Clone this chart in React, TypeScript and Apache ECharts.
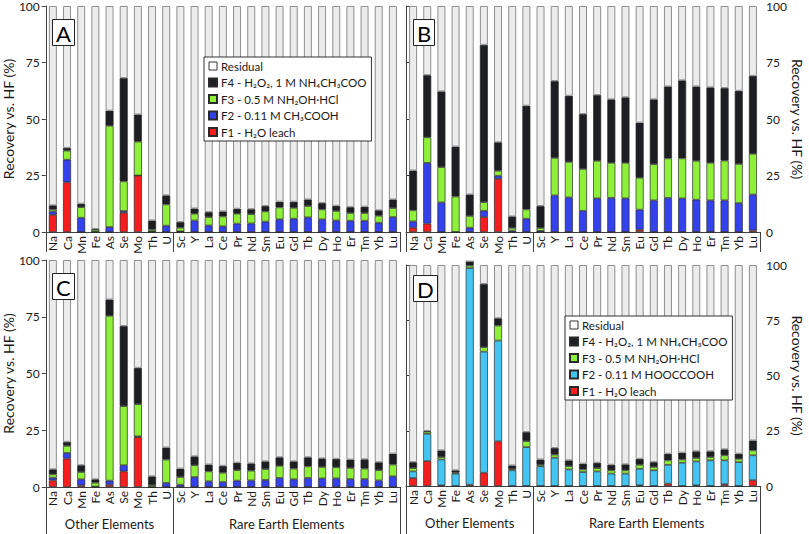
import React, { useEffect, useRef } from "react";
import * as echarts from "echarts";

const elements = ["Na", "Ca", "Mn", "Fe", "As", "Se", "Mo", "Th", "U", "Sc", "Y", "La", "Ce", "Pr", "Nd", "Sm", "Eu", "Gd", "Tb", "Dy", "Ho", "Er", "Tm", "Yb", "Lu"];
const groupLabels = ["Other Elements", "Rare Earth Elements"];
const groupBounds = [0, 9, 25];
const groupCenters = [4.5, 17];
const yTicks = [0, 25, 50, 75, 100];
const panelLetters = ["A", "B", "C", "D"];
const yAxisName = "Recovery vs. HF (%)";

const nameResidual = "Residual";
const nameF4 = "F4 - H₂O₂, 1 M NH₄CH₃COO";
const nameF3 = "F3 - 0.5 M NH₂OH·HCl";
const nameF2acetic = "F2 - 0.11 M CH₃COOH";
const nameF2oxalic = "F2 - 0.11 M HOOCCOOH";
const nameF1 = "F1 - H₂O leach";

// Panel A
const aF1 = [7.6, 22, 0, 0, 0, 8.5, 25, 0, 0, 0, 0, 0, 0, 0, 0, 0, 0, 0, 0, 0, 0, 0, 0, 0, 0];
const aF2 = [1.5, 10, 6.3, 0.2, 2.2, 0.8, 0, 0.3, 2.8, 0.3, 5.1, 2.9, 2.5, 3.7, 3.8, 4.6, 5.6, 5.9, 6.5, 5.6, 5.1, 5.0, 5.0, 4.1, 6.6];
const aF3 = [0.9, 4, 4.7, 0.9, 44.8, 13.1, 15, 0.8, 9.4, 1.6, 3.0, 3.7, 4.4, 4.4, 4.1, 4.5, 5.3, 4.8, 5.0, 4.4, 4.2, 3.4, 3.4, 3.1, 4.0];
const aF4 = [1.8, 1.2, 1.5, 0.2, 6.7, 45.7, 12, 4, 4, 2.5, 2.3, 2.2, 2.2, 2.2, 2.2, 2.4, 2.5, 2.7, 2.9, 2.8, 2.3, 2.6, 2.8, 2.4, 3.8];

// Panel B
const bF1 = [1.9, 3.7, 0, 0, 0, 6.6, 23.5, 0, 0, 0, 0, 0, 0, 0, 0, 0, 1.0, 0, 0, 0, 0, 0, 0, 0, 0.7];
const bF2 = [2.8, 26.9, 13.1, 0, 1.9, 2.8, 1.4, 0.6, 5.9, 0.5, 16.2, 15.3, 9.4, 14.9, 15.1, 14.9, 8.9, 14.0, 15.1, 14.9, 14.3, 14.0, 14.0, 12.8, 15.9];
const bF3 = [4.9, 11.3, 15.6, 15.7, 5.2, 3.8, 2.2, 1.2, 4.1, 1.3, 16.6, 15.7, 18.5, 16.6, 15.5, 15.7, 14.1, 16.0, 17.5, 17.7, 17.2, 16.6, 17.6, 17.3, 18.0];
const bF4 = [17.6, 27.5, 33.5, 22.1, 9.5, 69.6, 12.6, 5.1, 45.9, 9.7, 34.0, 29.3, 24.3, 29.1, 28.1, 29.0, 24.4, 28.7, 31.8, 34.5, 32.9, 33.4, 32.1, 32.4, 34.5];

// Panel C
const cF1 = [2.9, 12.5, 0.7, 0, 1.0, 6.9, 22, 0, 0, 0, 0, 0, 0, 0, 0, 0, 0, 0, 0, 0, 0, 0, 0, 0, 0];
const cF2 = [1.2, 2.5, 2.7, 0.2, 1.8, 2.7, 0.3, 0, 1.8, 1.0, 4.4, 2.5, 2.2, 2.8, 2.9, 3.1, 4.0, 3.4, 4.0, 3.8, 3.8, 3.5, 3.5, 2.9, 4.7];
const cF3 = [1.5, 3.1, 3.2, 1.7, 72.6, 26, 14.2, 0.8, 10.3, 3.4, 5.2, 4.4, 4.1, 4.6, 4.3, 4.8, 5.3, 4.7, 5.1, 5.0, 4.9, 4.9, 4.6, 4.5, 5.2];
const cF4 = [2.2, 1.8, 3.0, 1.5, 7.2, 35.3, 16, 3.9, 5.3, 3.7, 3.9, 3.0, 3.0, 3.3, 3.2, 3.4, 3.8, 3.2, 4.0, 3.8, 3.7, 3.7, 4.1, 3.5, 4.8];

// Panel D
const dF1 = [3.6, 11.3, 0.3, 0, 0.6, 6.0, 20.2, 0, 0, 0, 0, 0, 0, 0, 0, 0, 0.3, 0, 1.1, 0, 0.3, 0, 0.8, 0, 2.6];
const dF2 = [3.0, 12.3, 11.7, 5.6, 98.0, 54.8, 45.6, 7.1, 17.6, 8.9, 12.8, 7.5, 6.3, 6.6, 5.6, 5.6, 7.5, 7.1, 8.5, 10.5, 10.8, 11.6, 10.8, 10.8, 11.3];
const dF3 = [1.5, 1.0, 1.1, 0.5, 1.1, 2.0, 6.8, 0.6, 2.7, 0.7, 1.4, 1.5, 1.2, 1.5, 1.5, 1.5, 1.8, 1.5, 2.0, 1.5, 1.6, 1.5, 2.3, 1.5, 2.2];
const dF4 = [2.7, 0.3, 3.0, 1.0, 2.0, 28.6, 3.3, 1.6, 4.1, 2.4, 3.0, 2.6, 2.6, 2.4, 2.5, 2.7, 2.7, 2.2, 3.0, 3.1, 3.0, 2.6, 2.7, 2.3, 4.5];

const FONT = "Lato";
const COL = {
  red: "#f51d1d",
  blue: "#3442ee",
  cyan: "#45c6f2",
  green: "#8ff03a",
  black: "#1c1e22",
  residual: "#ececec",
  residualBorder: "#8f8f8f",
  segBorder: "#2a2a2a",
  axis: "#404040",
  text: "#1a1a1a",
};

type Panel = {
  data: number[][];
  f2Name: string;
  f2Color: string;
  grid: { left: number; top: number; width: number; height: number };
  side: "left" | "right";
  bottomLabels: boolean;
  title: { left: number; top: number };
};

const panels: Panel[] = [
  { data: [aF1, aF2, aF3, aF4], f2Name: nameF2acetic, f2Color: COL.blue, grid: { left: 45, top: 6, width: 355, height: 226 }, side: "left", bottomLabels: false, title: { left: 52, top: 19 } },
  { data: [bF1, bF2, bF3, bF4], f2Name: nameF2acetic, f2Color: COL.blue, grid: { left: 406, top: 6, width: 354, height: 226 }, side: "right", bottomLabels: false, title: { left: 413, top: 19 } },
  { data: [cF1, cF2, cF3, cF4], f2Name: nameF2acetic, f2Color: COL.blue, grid: { left: 45, top: 260, width: 355, height: 227 }, side: "left", bottomLabels: true, title: { left: 52, top: 273 } },
  { data: [dF1, dF2, dF3, dF4], f2Name: nameF2oxalic, f2Color: COL.cyan, grid: { left: 406, top: 265, width: 354, height: 221 }, side: "right", bottomLabels: true, title: { left: 413, top: 275 } },
];

function buildOption() {
  const grids: any[] = [];
  const xAxes: any[] = [];
  const yAxes: any[] = [];
  const series: any[] = [];
  const titles: any[] = [];

  panels.forEach((p, k) => {
    grids.push({ ...p.grid, containLabel: false });
    xAxes.push({
      type: "category",
      gridIndex: k,
      data: elements,
      boundaryGap: true,
      axisLine: { show: true, lineStyle: { color: COL.axis, width: 1 } },
      axisTick: { show: false },
      axisLabel: { rotate: 90, fontSize: 12, fontFamily: FONT, color: COL.text, margin: 4, interval: 0 },
      splitLine: { show: false },
    });
    xAxes.push({
      type: "value",
      gridIndex: k,
      min: 0,
      max: 25,
      position: "bottom",
      axisLine: { show: false },
      splitLine: { show: false },
      axisTick: {
        show: true,
        customValues: groupBounds,
        length: p.bottomLabels ? 48 : 20,
        lineStyle: { color: COL.axis, width: 1 },
      },
      axisLabel: p.bottomLabels
        ? {
            show: true,
            customValues: groupCenters,
            formatter: (v: number) => (v < groupBounds[1] ? groupLabels[0] : groupLabels[1]),
            fontSize: 13,
            fontFamily: FONT,
            color: COL.text,
            margin: 30,
          }
        : { show: false },
    });
    yAxes.push({
      type: "value",
      gridIndex: k,
      min: yTicks[0],
      max: yTicks[yTicks.length - 1],
      interval: 25,
      position: p.side,
      name: yAxisName,
      nameLocation: "middle",
      nameRotate: p.side === "left" ? 90 : -90,
      nameGap: p.side === "left" ? 27 : 30,
      nameTextStyle: { fontSize: 14, fontFamily: FONT, color: COL.text },
      axisLine: { show: true, lineStyle: { color: COL.axis, width: 1 } },
      axisTick: { show: true, length: 4, lineStyle: { color: COL.axis } },
      axisLabel: { fontSize: 12, fontFamily: FONT, color: COL.text, margin: 6 },
      splitLine: { show: false },
    });

    const [f1, f2, f3, f4] = p.data;
    const residual = elements.map((_, i) => Math.max(0, 100 - (f1[i] + f2[i] + f3[i] + f4[i])));
    const segs = [
      { name: nameF1, data: f1, color: COL.red, border: COL.segBorder, bw: 0.7 },
      { name: p.f2Name, data: f2, color: p.f2Color, border: COL.segBorder, bw: 0.7 },
      { name: nameF3, data: f3, color: COL.green, border: COL.segBorder, bw: 0.7 },
      { name: nameF4, data: f4, color: COL.black, border: COL.segBorder, bw: 0.7 },
      { name: nameResidual, data: residual, color: COL.residual, border: COL.residualBorder, bw: 1 },
    ];
    segs.forEach((s) => {
      series.push({
        type: "bar",
        name: s.name,
        xAxisIndex: 2 * k,
        yAxisIndex: k,
        stack: "panel" + k,
        data: s.data,
        barWidth: 8,
        clip: false,
        itemStyle: { color: s.color, borderColor: s.border, borderWidth: s.bw },
        emphasis: { disabled: true },
      });
    });

    titles.push({
      text: panelLetters[k],
      left: p.title.left,
      top: p.title.top,
      padding: [3, 4, 2, 4],
      borderColor: "#222",
      borderWidth: 1,
      backgroundColor: "#ffffff",
      textStyle: { fontSize: 22, fontWeight: "normal", fontFamily: FONT, color: "#000" },
    });
  });

  const legendCommon = {
    orient: "vertical",
    itemWidth: 8,
    itemHeight: 8,
    itemGap: 4.5,
    backgroundColor: "#ffffff",
    borderColor: "#333",
    borderWidth: 1,
    padding: [3, 5, 3, 4],
    selectedMode: false,
    icon: "rect",
    textStyle: { fontSize: 11.5, fontFamily: FONT, color: COL.text, padding: [0, 0, 0, -1] },
  };
  const residualLegendItem = { name: nameResidual, itemStyle: { color: "#ffffff", borderColor: "#333", borderWidth: 1 } };

  return {
    animation: false,
    backgroundColor: "#ffffff",
    title: titles,
    grid: grids,
    xAxis: xAxes,
    yAxis: yAxes,
    legend: [
      { ...legendCommon, left: 204, top: 57, data: [residualLegendItem, nameF4, nameF3, nameF2acetic, nameF1] },
      { ...legendCommon, left: 565, top: 316, data: [residualLegendItem, nameF4, nameF3, nameF2oxalic, nameF1] },
    ],
    series,
  };
}

export default function App() {
  const ref = useRef<HTMLDivElement>(null);
  useEffect(() => {
    document.body.style.margin = "0";
    const chart = echarts.init(ref.current!, null, { renderer: "svg" });
    chart.setOption(buildOption() as any);
    return () => chart.dispose();
  }, []);
  return <div ref={ref} style={{ width: 809, height: 534 }} />;
}
